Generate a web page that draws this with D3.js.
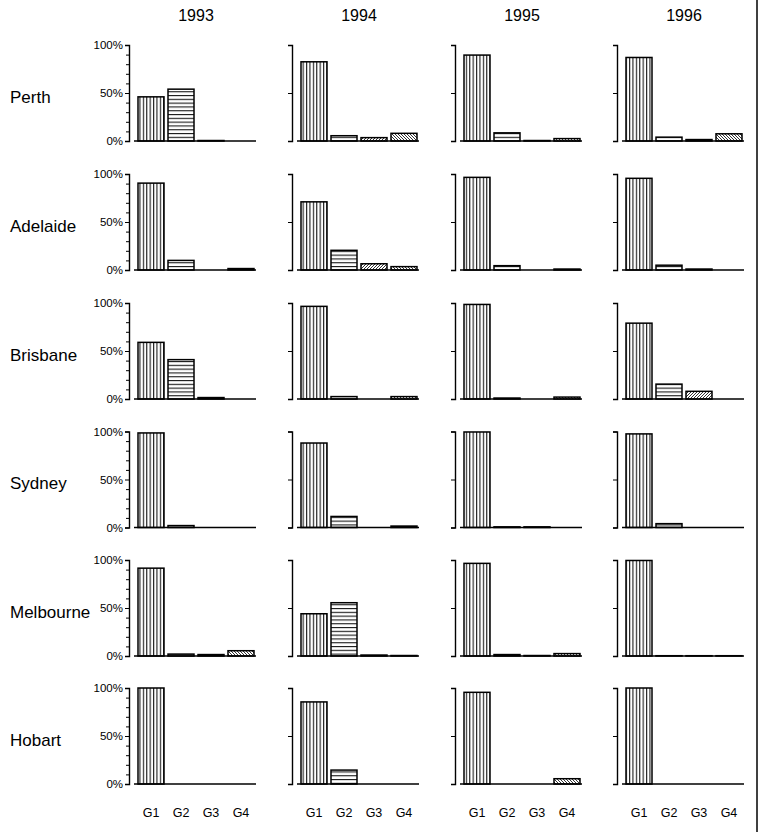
<!DOCTYPE html>
<html>
<head>
<meta charset="utf-8">
<script src="https://cdn.jsdelivr.net/npm/d3@7/dist/d3.min.js"></script>
<style>
  html, body { margin: 0; padding: 0; background: #fff; }
  svg { display: block; color: #000; }
  text { font-family: Arial, "Liberation Sans", Helvetica, sans-serif; fill: #000; }
</style>
</head>
<body>
<svg id="chart" width="760" height="832"></svg>
<script>
// ---- Data ----
const years = ["1993", "1994", "1995", "1996"];
const cities = ["Perth", "Adelaide", "Brisbane", "Sydney", "Melbourne", "Hobart"];
const groups = ["G1", "G2", "G3", "G4"];
const yTickLabels = ["0%", "50%", "100%"];

// values in percent: [city][year] -> [G1, G2, G3, G4]
const perth     = [[46, 54, 0.5, 0], [82.5, 5.5, 3.5, 8], [89.5, 8.5, 0.5, 2.5], [87, 4, 1.5, 7.5]];
const adelaide  = [[90.5, 10, 0, 1.5], [71, 20.5, 6.5, 3.5], [96.5, 4.5, 0, 1], [95.5, 5, 1, 0]];
const brisbane  = [[59, 41, 1.5, 0], [96.5, 2.5, 0, 2.5], [98.5, 1, 0, 2], [79, 15.5, 8, 0]];
const sydney    = [[98.5, 2, 0, 0], [88, 11.5, 0, 1.5], [99.5, 0.7, 0.7, 0], [97.5, 4, 0, 0]];
const melbourne = [[91.5, 2, 1.5, 5.5], [44, 55.5, 1, 0.5], [96.5, 1.5, 0.5, 2.5], [99.5, 0.3, 0.3, 0.3]];
const hobart    = [[100, 0, 0, 0], [85.5, 14.5, 0, 0], [95.5, 0, 0, 5.5], [100, 0, 0, 0]];
const values = [perth, adelaide, brisbane, sydney, melbourne, hobart];

// ---- Layout ----
const svg = d3.select("#chart");
const colAxisX = [129, 292, 455, 617];
const rowBase = [141, 270, 399, 527.5, 656, 784];
const panelH = 96;

// patterns
const defs = svg.append("defs");
function pattern(id, w, h, draw) {
  const p = defs.append("pattern").attr("id", id)
    .attr("patternUnits", "userSpaceOnUse").attr("width", w).attr("height", h);
  p.append("rect").attr("width", w).attr("height", h).attr("fill", "#fff");
  draw(p);
}
pattern("pG1", 3.4, 10, p => p.append("line").attr("x1", 0.6).attr("x2", 0.6).attr("y1", 0).attr("y2", 10)
  .attr("stroke", "#000").attr("stroke-width", 1));
pattern("pG2", 10, 3.8, p => p.append("line").attr("x1", 0).attr("x2", 10).attr("y1", 0.6).attr("y2", 0.6)
  .attr("stroke", "#000").attr("stroke-width", 1));
pattern("pG3", 3, 3, p => p.append("path").attr("d", "M-1,4 L4,-1 M-1,1 L1,-1 M2,4 L4,2")
  .attr("stroke", "#000").attr("stroke-width", 0.8));
pattern("pG4", 3, 3, p => p.append("path").attr("d", "M-1,-1 L4,4 M-1,2 L1,4 M2,-1 L4,1")
  .attr("stroke", "#000").attr("stroke-width", 0.8));
const fills = ["url(#pG1)", "url(#pG2)", "url(#pG3)", "url(#pG4)"];

// year titles
years.forEach((yr, ci) => {
  svg.append("text").attr("x", colAxisX[ci] + 67).attr("y", 21)
    .attr("text-anchor", "middle").attr("font-size", 16).text(yr);
});

// city labels
cities.forEach((c, ri) => {
  svg.append("text").attr("x", 10).attr("y", rowBase[ri] - 38.5)
    .attr("font-size", 17).text(c);
});

const y = d3.scaleLinear().domain([0, 100]);

cities.forEach((city, ri) => {
  years.forEach((yr, ci) => {
    const ax = colAxisX[ci];
    const base = rowBase[ri];
    y.range([base, base - panelH]);
    const x = d3.scaleBand().domain(groups).range([ax + 7, ax + 127])
      .paddingInner(0.1333).paddingOuter(0.0667);
    const g = svg.append("g");

    // y axis
    const axis = d3.axisLeft(y).tickSizeOuter(0);
    if (ci === 0) {
      axis.tickValues(d3.range(0, 101, 10)).tickSize(4)
        .tickFormat(d => (d % 50 === 0 ? d + "%" : ""));
    } else {
      axis.tickValues([0, 50, 100]).tickSize(4).tickFormat("");
    }
    const ag = g.append("g").attr("transform", `translate(${ax},0)`)
      .attr("color", "#000").call(axis);
    ag.select(".domain").attr("stroke", "#000").attr("stroke-width", 1.4);
    ag.selectAll(".tick line").attr("stroke", "#000").attr("stroke-width", 1)
      .attr("x2", d => (ci === 0 && d % 50 !== 0 ? -3 : -4));
    ag.selectAll(".tick text").attr("font-size", 11.5).attr("x", -6)
      .attr("font-family", "Arial, 'Liberation Sans', sans-serif")
      .attr("fill", "#000").style("fill", "#000");

    // bars
    g.selectAll("rect.bar").data(values[ri][ci]).enter().append("rect")
      .attr("class", "bar")
      .attr("x", (d, i) => x(groups[i]))
      .attr("width", x.bandwidth())
      .attr("y", d => y(d))
      .attr("height", d => base - y(d))
      .attr("fill", (d, i) => fills[i])
      .attr("stroke", "#000")
      .attr("stroke-width", d => (d > 0 ? 1.5 : 0));

    // baseline
    g.append("line").attr("x1", ax + 5).attr("x2", ax + 127)
      .attr("y1", base).attr("y2", base)
      .attr("stroke", "#000").attr("stroke-width", 1.5);

    // x labels at the bottom row
    if (ri === cities.length - 1) {
      groups.forEach(gr => {
        svg.append("text").attr("x", x(gr) + x.bandwidth() / 2).attr("y", 817)
          .attr("text-anchor", "middle").attr("font-size", 12.5).text(gr);
      });
    }
  });
});

// right border line
svg.append("line").attr("x1", 757).attr("x2", 757).attr("y1", 0).attr("y2", 832)
  .attr("stroke", "#000").attr("stroke-width", 1.5);
</script>
</body>
</html>
